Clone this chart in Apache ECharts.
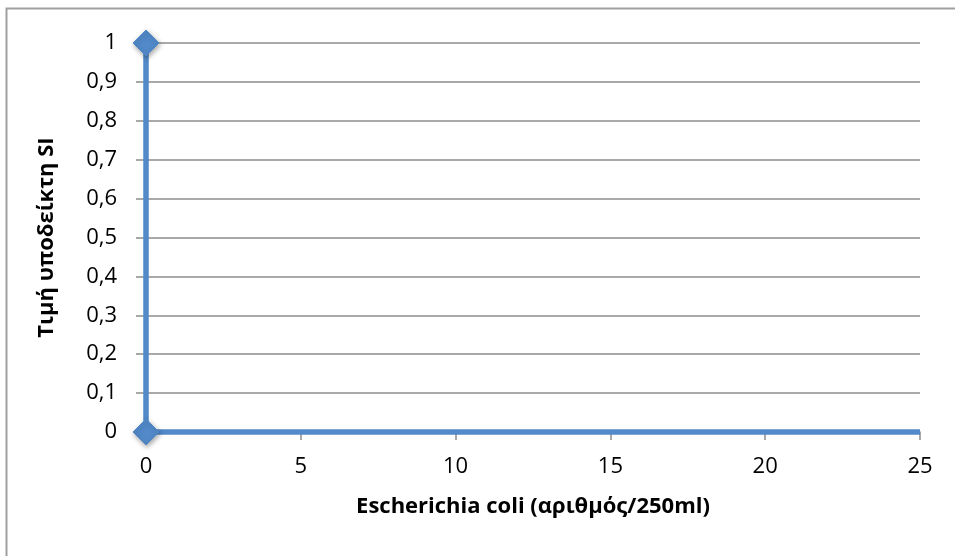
<!DOCTYPE html>
<html>
<head>
<meta charset="utf-8">
<script src="https://cdn.jsdelivr.net/npm/echarts@6/dist/echarts.min.js"></script>
<style>
  html, body { margin: 0; padding: 0; background: #fff; }
  #chart { width: 955px; height: 556px; }
</style>
</head>
<body>
<div id="chart"></div>
<script>
// E. coli count vs SI sub-index value
const xValues = [0, 0, 25];
const siValues = [1, 0, 0];
const showMarker = [true, true, false];
const xTitle = 'Escherichia coli (αριθμός/250ml)';
const yTitle = 'Τιμή υποδείκτη SI';

const blue = '#5289C9';
const gray = '#8c8c8c';
const font = '"Open Sans", "Noto Sans", sans-serif';

const seriesData = xValues.map((x, i) => ({
  value: [x, siValues[i]],
  symbol: showMarker[i] ? 'diamond' : 'none'
}));

const chart = echarts.init(document.getElementById('chart'));
chart.setOption({
  animation: false,
  backgroundColor: '#fff',
  graphic: [{
    type: 'rect',
    shape: { x: 6.5, y: 8.5, width: 1200, height: 1200 },
    style: { fill: 'none', stroke: '#a0a0a0', lineWidth: 2 },
    silent: true
  }],
  grid: { left: 146, right: 35, top: 43, bottom: 124 },
  xAxis: {
    type: 'value',
    min: 0, max: 25, interval: 5,
    name: xTitle,
    nameLocation: 'middle',
    nameGap: 64,
    nameTextStyle: { fontFamily: font, fontWeight: 'bold', fontSize: 22, color: '#000' },
    axisLine: { show: true, lineStyle: { color: gray, width: 1.5 } },
    axisTick: { show: true, length: 8, lineStyle: { color: gray, width: 1.5 } },
    axisLabel: { margin: 24, fontFamily: font, fontSize: 22, color: '#000' },
    splitLine: { show: false }
  },
  yAxis: {
    type: 'value',
    min: 0, max: 1, interval: 0.1,
    name: yTitle,
    nameLocation: 'middle',
    nameGap: 88,
    nameRotate: 90,
    nameTextStyle: { fontFamily: font, fontWeight: 'bold', fontSize: 22, color: '#000' },
    axisLine: { show: true, lineStyle: { color: gray, width: 1.5 } },
    axisTick: { show: true, length: 10, lineStyle: { color: gray, width: 1.5 } },
    axisLabel: {
      margin: 29, fontFamily: font, fontSize: 22, color: '#000',
      formatter: v => (Math.round(v * 10) / 10).toString().replace('.', ',')
    },
    splitLine: { show: true, lineStyle: { color: gray, width: 1.5 } }
  },
  series: [{
    type: 'line',
    data: seriesData,
    symbolSize: 26,
    clip: false,
    lineStyle: { color: blue, width: 5.5 },
    itemStyle: {
      color: blue, borderColor: blue, borderWidth: 1,
      shadowColor: 'rgba(0,0,0,0.35)', shadowBlur: 5, shadowOffsetX: 1, shadowOffsetY: 2
    }
  }]
});
</script>
</body>
</html>
